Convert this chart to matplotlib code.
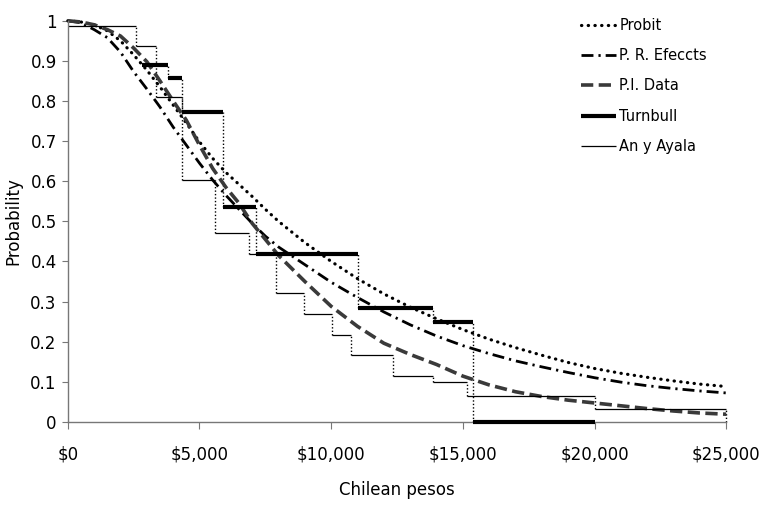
import matplotlib.pyplot as plt
import numpy as np

# smooth curves (pesos, probability)
curve_x = [0, 500, 1000, 1500, 2000, 2500, 3000, 3500, 4000, 4500, 5000, 5500, 6000, 6500,
           7000, 7500, 8000, 9000, 10000, 11000, 12000, 13000, 14000, 15000, 16000, 17000,
           18000, 19000, 20000, 21000, 22000, 23000, 24000, 25000]
probit = [1.0, 0.997, 0.99, 0.975, 0.95, 0.915, 0.877, 0.835, 0.79, 0.745, 0.698, 0.657, 0.622,
          0.592, 0.562, 0.53, 0.5, 0.447, 0.4, 0.357, 0.319, 0.286, 0.257, 0.23, 0.206, 0.185,
          0.166, 0.148, 0.133, 0.121, 0.111, 0.102, 0.094, 0.088]
pr_effects = [1.0, 0.995, 0.978, 0.958, 0.922, 0.873, 0.83, 0.785, 0.735, 0.69, 0.645, 0.603,
              0.565, 0.53, 0.495, 0.463, 0.436, 0.392, 0.348, 0.31, 0.274, 0.242, 0.214, 0.19,
              0.17, 0.152, 0.137, 0.123, 0.11, 0.099, 0.09, 0.083, 0.077, 0.072]
pi_data = [1.0, 0.997, 0.99, 0.978, 0.962, 0.932, 0.898, 0.85, 0.8, 0.752, 0.69, 0.632, 0.585,
           0.545, 0.495, 0.455, 0.415, 0.35, 0.288, 0.238, 0.196, 0.168, 0.143, 0.114, 0.092,
           0.075, 0.063, 0.054, 0.047, 0.04, 0.033, 0.027, 0.022, 0.019]

# step functions: bid edges and values
turnbull_edges = [2820, 3810, 4340, 5900, 7160, 11030, 13850, 15370, 20000]
turnbull_vals = [0.89, 0.857, 0.772, 0.535, 0.418, 0.283, 0.249, 0.0]
ayala_edges = [0, 2590, 3350, 4340, 5600, 6890, 7920, 8970, 10040, 10770, 12330, 13850,
               15140, 20000, 25000]
ayala_vals = [0.987, 0.937, 0.81, 0.603, 0.47, 0.418, 0.321, 0.268, 0.216, 0.166, 0.114,
              0.099, 0.064, 0.032]

xticks = [0, 5000, 10000, 15000, 20000, 25000]
xticklabels = ['$0', '$5,000', '$10,000', '$15,000', '$20,000', '$25,000']
yticks = [0, 0.1, 0.2, 0.3, 0.4, 0.5, 0.6, 0.7, 0.8, 0.9, 1]
yticklabels = ['0', '0.1', '0.2', '0.3', '0.4', '0.5', '0.6', '0.7', '0.8', '0.9', '1']

fig = plt.figure(figsize=(7.62, 5.07), dpi=100)
ax = fig.add_axes([0.089, 0.168, 0.864, 0.791])

vdot = (0, (1, 1.5))

# dotted vertical connectors
ax.vlines(turnbull_edges[1:-1], turnbull_vals[1:], turnbull_vals[:-1],
          colors='k', linestyles=vdot, linewidth=1, clip_on=False)
ax.vlines(ayala_edges[1:-1], ayala_vals[1:], ayala_vals[:-1],
          colors='k', linestyles=vdot, linewidth=1, clip_on=False)
ax.vlines([ayala_edges[-1]], [0], [ayala_vals[-1]],
          colors='k', linestyles=vdot, linewidth=1, clip_on=False)

l1, = ax.plot(curve_x, probit, color='k', lw=2.3, linestyle=(0, (0.1, 2.0)),
              dash_capstyle='round', label='Probit', clip_on=False)
l2, = ax.plot(curve_x, pr_effects, color='k', lw=2.0, linestyle=(0, (4.3, 1.8, 0.8, 1.8)),
              label='P. R. Efeccts', clip_on=False)
l3, = ax.plot(curve_x, pi_data, color='#3a3a3a', lw=2.6, linestyle=(0, (3.4, 1.5)),
              label='P.I. Data', clip_on=False)
l4 = ax.hlines(turnbull_vals, turnbull_edges[:-1], turnbull_edges[1:], colors='k',
               linewidth=3, label='Turnbull', clip_on=False, zorder=3)
l5 = ax.hlines(ayala_vals, ayala_edges[:-1], ayala_edges[1:], colors='k',
               linewidth=0.9, label='An y Ayala', clip_on=False)

ax.set_xlim(0, 25000)
ax.set_ylim(0, 1)
ax.set_xticks(xticks)
ax.set_xticklabels(xticklabels, fontsize=12)
ax.set_yticks(yticks)
ax.set_yticklabels(yticklabels, fontsize=12)
ax.tick_params(axis='x', direction='out', length=5, pad=12, color='#777777')
ax.tick_params(axis='y', direction='out', length=4, pad=4, color='#777777')

for s in ['top', 'right']:
    ax.spines[s].set_visible(False)
for s in ['left', 'bottom']:
    ax.spines[s].set_color('#777777')
    ax.spines[s].set_linewidth(1)

ax.set_xlabel('Chilean pesos', fontsize=12, labelpad=13)
ax.set_ylabel('Probability', fontsize=12, labelpad=6)

ax.legend(handles=[l1, l2, l3, l4, l5], loc='upper left', bbox_to_anchor=(0.76, 1.04),
          frameon=False, fontsize=10.5, labelspacing=1.05, handlelength=2.4,
          handletextpad=0.2)

fig.savefig('out.png', dpi=100)
